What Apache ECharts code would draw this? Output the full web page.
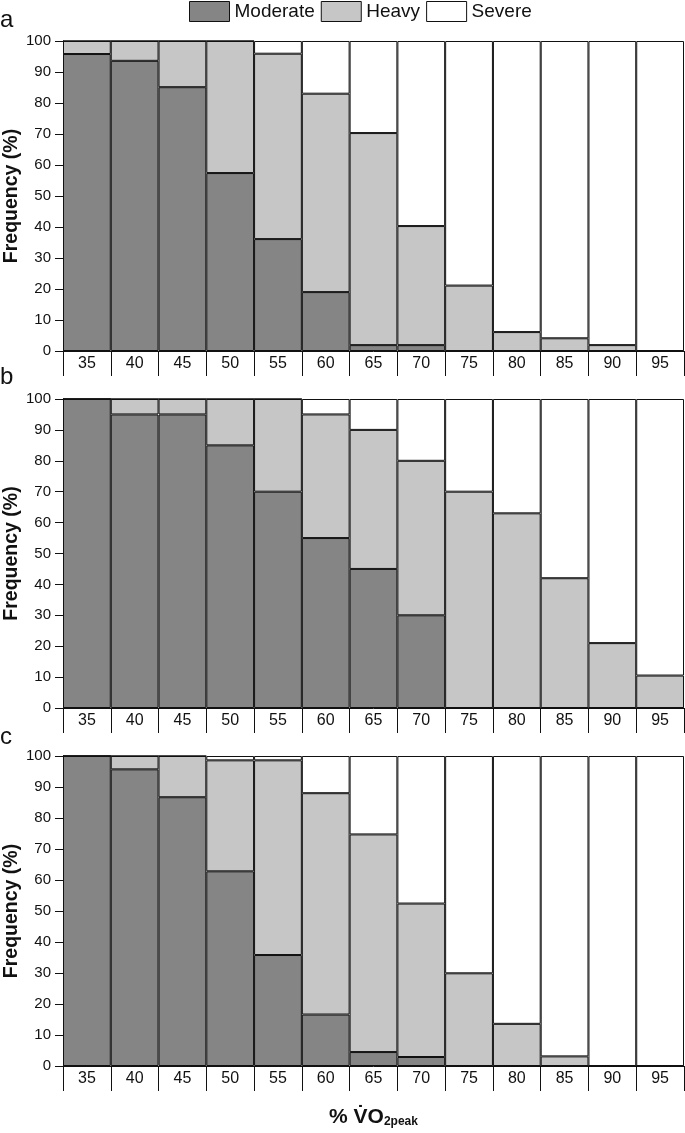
<!DOCTYPE html>
<html>
<head>
<meta charset="utf-8">
<script src="https://cdn.jsdelivr.net/npm/echarts@6/dist/echarts.min.js"></script>
<style>
  html, body { margin: 0; padding: 0; background: #fff; }
  #chart { width: 685px; height: 1133px; }
</style>
</head>
<body>
<div id="chart"></div>
<script>
const categories = ['35', '40', '45', '50', '55', '60', '65', '70', '75', '80', '85', '90', '95'];

// panel a
const moderateA = [95.8, 93.6, 85.1, 57.4, 36.1, 19.0, 1.9, 1.9, 0, 0, 0, 0, 0];
const heavyA    = [4.2, 6.4, 14.9, 42.6, 59.8, 64.0, 68.4, 38.4, 21.1, 6.1, 4.1, 1.9, 0];
const severeA   = [0, 0, 0, 0, 4.1, 17.0, 29.7, 59.7, 78.9, 93.9, 95.9, 98.1, 100];

// panel b
const moderateB = [100, 95, 95, 85, 70, 55, 45, 30, 0, 0, 0, 0, 0];
const heavyB    = [0, 5, 5, 15, 30, 40, 45, 50, 70, 63, 42, 21, 10.5];
const severeB   = [0, 0, 0, 0, 0, 5, 10, 20, 30, 37, 58, 79, 89.5];

// panel c
const moderateC = [100, 95.7, 86.7, 62.8, 35.8, 16.6, 4.5, 2.9, 0, 0, 0, 0, 0];
const heavyC    = [0, 4.3, 13.3, 35.8, 62.8, 71.4, 70.2, 49.5, 29.9, 13.6, 3.1, 0, 0];
const severeC   = [0, 0, 0, 1.4, 1.4, 12.0, 25.3, 47.6, 70.1, 86.4, 96.9, 100, 100];

const panels = [
  { letter: 'a', top: 41, height: 310, letterTop: 8, data: [moderateA, heavyA, severeA] },
  { letter: 'b', top: 399, height: 309, letterTop: 365, data: [moderateB, heavyB, severeB] },
  { letter: 'c', top: 756, height: 310, letterTop: 725, data: [moderateC, heavyC, severeC] }
];

const names = ['Moderate', 'Heavy', 'Severe'];
const colors = ['#858585', '#c6c6c6', '#ffffff'];
const font = "'Liberation Sans', Arial, sans-serif";

const grid = [], xAxis = [], yAxis = [], series = [], title = [];

panels.forEach((p, i) => {
  grid.push({ left: 63, right: 1, top: p.top, height: p.height, containLabel: false, outerBoundsMode: 'none' });
  title.push({
    text: p.letter, left: 0, top: p.letterTop, padding: 0,
    textStyle: { fontFamily: font, fontSize: 24, fontWeight: 'normal', color: '#111' }
  });
  xAxis.push({
    type: 'category', gridIndex: i, data: categories,
    axisLine: { lineStyle: { color: '#111', width: 1 } },
    axisTick: { show: true, length: 25, interval: 0, lineStyle: { color: '#111', width: 1 } },
    axisLabel: { interval: 0, margin: 5, fontSize: 16, color: '#111', fontFamily: font },
    name: i === 2 ? '{b|% V\u0307O}{s|2peak}' : '',
    nameLocation: 'middle', nameGap: 36, nameMoveOverlap: false,
    nameTextStyle: {
      rich: {
        b: { fontSize: 21, fontWeight: 'bold', fontFamily: font, color: '#111', verticalAlign: 'bottom', lineHeight: 26 },
        s: { fontSize: 12, fontWeight: 'bold', fontFamily: font, color: '#111', verticalAlign: 'bottom', lineHeight: 20 }
      }
    }
  });
  yAxis.push({
    type: 'value', gridIndex: i, min: 0, max: 100, interval: 10,
    axisLine: { show: true, lineStyle: { color: '#111', width: 1 } },
    axisTick: { show: true, length: 8, lineStyle: { color: '#111', width: 1 } },
    axisLabel: { margin: 12, fontSize: 15, color: '#111', fontFamily: font },
    splitLine: { show: false },
    name: 'Frequency (%)', nameLocation: 'middle', nameGap: 41, nameMoveOverlap: false,
    nameTextStyle: { fontSize: 19.5, fontWeight: 'bold', color: '#111', fontFamily: font }
  });
  p.data.forEach((vals, k) => {
    series.push({
      name: names[k], type: 'bar', stack: 'p' + i,
      xAxisIndex: i, yAxisIndex: i,
      barCategoryGap: 0, data: vals,
      itemStyle: { color: colors[k], borderColor: '#111', borderWidth: 1 },
      emphasis: { disabled: true },
      animation: false
    });
  });
});

const chart = echarts.init(document.getElementById('chart'));
chart.setOption({
  backgroundColor: '#fff',
  animation: false,
  title,
  legend: {
    data: names, left: 189, top: 1, padding: 0,
    itemWidth: 40, itemHeight: 20, itemGap: 6,
    icon: 'rect',
    itemStyle: { borderColor: '#111', borderWidth: 1 },
    textStyle: { fontSize: 19, color: '#111', fontFamily: font }
  },
  grid, xAxis, yAxis, series
});
</script>
</body>
</html>
